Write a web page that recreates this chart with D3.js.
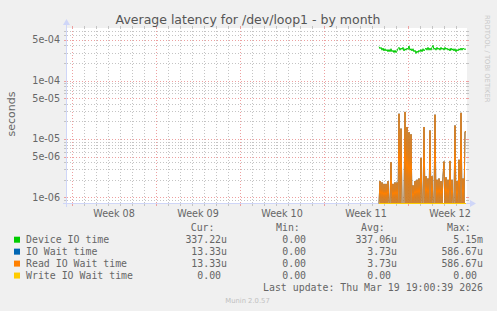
<!DOCTYPE html>
<html><head><meta charset="utf-8">
<script src="https://cdn.jsdelivr.net/npm/d3@7"></script>
<style>html,body{margin:0;padding:0;background:#f0f0f0;}svg{display:block}</style>
</head><body>
<svg id="c" width="497" height="311"></svg>
<script>
// ---------------- data ----------------
const titleText = "Average latency for /dev/loop1 - by month";
const yAxisLabel = "seconds";
const timeStart = "2026-02-15T14:00:00Z";
const timeEnd = "2026-03-20T22:00:00Z";
const firstSample = "2026-03-13T14:00:00Z";
const stepHours = 2;

const weekStarts = ["2026-02-16","2026-02-23","2026-03-02","2026-03-09","2026-03-16"];
const weekLabels = ["Week 08","Week 09","Week 10","Week 11","Week 12"];

const yTickValues = [1e-6, 5e-6, 1e-5, 5e-5, 1e-4, 5e-4];
const yTickLabels = ["1e-06","5e-06","1e-05","5e-05","1e-04","5e-04"];

const deviceIoTime = [
 3.8e-4,3.5e-4,3.7e-4,3.3e-4,3.6e-4,3.2e-4,3.5e-4,3.2e-4,3.4e-4,3.1e-4,
 3.4e-4,3.1e-4,3.5e-4,3.1e-4,3.3e-4,3.0e-4,3.3e-4,3.0e-4,3.2e-4,3.5e-4,
 3.7e-4,3.3e-4,3.6e-4,3.4e-4,3.7e-4,3.2e-4,3.5e-4,3.3e-4,3.6e-4,3.4e-4,
 3.9e-4,3.3e-4,3.5e-4,3.2e-4,3.5e-4,3.1e-4,3.3e-4,2.9e-4,3.2e-4,3.0e-4,
 3.3e-4,3.1e-4,3.4e-4,3.1e-4,3.5e-4,3.2e-4,3.4e-4,3.6e-4,3.3e-4,3.7e-4,
 3.3e-4,3.6e-4,3.3e-4,3.7e-4,4.0e-4,3.4e-4,3.6e-4,3.3e-4,3.7e-4,3.4e-4,
 3.6e-4,3.3e-4,3.7e-4,3.4e-4,3.6e-4,3.3e-4,3.7e-4,3.4e-4,3.6e-4,3.3e-4,
 3.5e-4,3.2e-4,3.6e-4,3.3e-4,3.5e-4,3.2e-4,3.5e-4,3.1e-4,3.4e-4,3.2e-4,
 3.5e-4,3.3e-4,3.6e-4,3.3e-4,3.6e-4,3.4e-4,3.5e-4,3.37e-4
];
const ioWaitTime = [
 0,1.9e-6,0,1.8e-6,0,1.7e-6,0,1.7e-6,0,1.9e-6,
 0,0,4.0e-6,0,1.7e-6,0,1.8e-6,0,1.8e-6,0,
 2.7e-5,0,1.5e-5,0,0,0,2.9e-5,0,1.6e-5,0,
 1.3e-5,0,1.2e-5,0,1.6e-6,0,1.9e-6,0,2.0e-6,0,
 2.1e-6,0,4.7e-6,0,0,1.6e-5,0,2.3e-6,0,2.1e-6,
 0,1.4e-5,0,2.3e-6,0,0,2.6e-5,0,2.0e-6,0,
 2.1e-6,0,1.9e-6,0,2.3e-6,4.1e-6,0,2.2e-6,0,2.0e-6,
 0,4.2e-6,0,2.0e-6,0,0,1.7e-5,0,1.9e-6,0,
 4.4e-6,0,2.8e-5,0,2.1e-6,0,1.33e-5,1.33e-5
];
const readIoWaitTime = [
 0,1.9e-6,0,1.8e-6,0,1.7e-6,0,1.7e-6,0,1.9e-6,
 0,0,4.0e-6,0,1.7e-6,0,1.8e-6,0,1.8e-6,0,
 2.7e-5,0,1.5e-5,0,0,0,2.9e-5,0,1.6e-5,0,
 1.3e-5,0,1.2e-5,0,1.6e-6,0,1.9e-6,0,2.0e-6,0,
 2.1e-6,0,4.7e-6,0,0,1.6e-5,0,2.3e-6,0,2.1e-6,
 0,1.4e-5,0,2.3e-6,0,0,2.6e-5,0,2.0e-6,0,
 2.1e-6,0,1.9e-6,0,2.3e-6,4.1e-6,0,2.2e-6,0,2.0e-6,
 0,4.2e-6,0,2.0e-6,0,0,1.7e-5,0,1.9e-6,0,
 4.4e-6,0,2.8e-5,0,2.1e-6,0,1.33e-5,1.33e-5
];
const writeIoWaitTime = [
 0,0,0,0,0,0,0,0,0,0, 0,0,0,0,0,0,0,0,0,0,
 0,0,0,0,0,0,0,0,0,0, 0,0,0,0,0,0,0,0,0,0,
 0,0,0,0,0,0,0,0,0,0, 0,0,0,0,0,0,0,0,0,0,
 0,0,0,0,0,0,0,0,0,0, 0,0,0,0,0,0,0,0,0,0,
 0,0,0,0,0,0,0,0
];

const seriesNames = ["Device IO time","IO Wait time","Read IO Wait time","Write IO Wait time"];
const curValues = ["337.22u","13.33u","13.33u","0.00"];
const minValues = ["0.00","0.00","0.00","0.00"];
const avgValues = ["337.06u","3.73u","3.73u","0.00"];
const maxValues = ["5.15m","586.67u","586.67u","0.00"];
const statHeaders = ["Cur:","Min:","Avg:","Max:"];
const lastUpdate = "Last update: Thu Mar 19 19:00:39 2026";
const footer = "Munin 2.0.57";
const sideText = "RRDTOOL / TOBI OETIKER";

// ---------------- style ----------------
const colors = ["#00cc00","#0066b3","#ff8000","#ffcc00"];
const W = 497, H = 311;
const X0 = 67, X1 = 467, Y0 = 203, Y1 = 28;
const fontSans = "'DejaVu Sans', sans-serif";
const fontMono = "'DejaVu Sans Mono', monospace";
const fontColor = "#666";
const axisColor = "#cfd6f8";
const gridColor = "#c4c4c4";
const mgridColor = "#eda0a0";

const svg = d3.select("#c");
svg.append("rect").attr("width",W).attr("height",H).attr("fill","#f0f0f0");
svg.append("rect").attr("x",X0).attr("y",Y1).attr("width",X1-X0).attr("height",Y0-Y1).attr("fill","#fff");

const x = d3.scaleUtc().domain([new Date(timeStart), new Date(timeEnd)]).range([X0, X1]);
const y = d3.scaleLog().domain([8.0e-7, 7.92e-4]).range([Y0, Y1]);

const t0 = new Date(firstSample).getTime();
const toPts = arr => arr.map((v,i)=>({t:new Date(t0 + i*stepHours*3600e3), v}));

const grid = svg.append("g");
const px = v => Math.round(v) + 0.5;

// vertical grid
const mondays = weekStarts.map(d=>new Date(d+"T00:00:00Z").getTime());
const days = d3.utcDay.range(x.domain()[0], x.domain()[1]);
days.forEach(d=>{
  const major = mondays.includes(d.getTime());
  const xx = px(x(d));
  const c = major ? mgridColor : gridColor;
  grid.append("line").attr("x1",xx).attr("x2",xx).attr("y1",Y1).attr("y2",Y0)
    .attr("stroke",c).attr("stroke-dasharray","1,2").attr("shape-rendering","crispEdges");
  grid.append("line").attr("x1",xx).attr("x2",xx).attr("y1",Y0).attr("y2",Y0+3)
    .attr("stroke",c).attr("shape-rendering","crispEdges");
  grid.append("line").attr("x1",xx).attr("x2",xx).attr("y1",Y1-2).attr("y2",Y1)
    .attr("stroke",c).attr("shape-rendering","crispEdges");
});
// horizontal grid
y.ticks().forEach(v=>{
  const major = yTickValues.some(t=>Math.abs(t-v)/t < 1e-6);
  const yy = px(y(v));
  const c = major ? mgridColor : gridColor;
  grid.append("line").attr("x1",X0).attr("x2",X1).attr("y1",yy).attr("y2",yy)
    .attr("stroke",c).attr("stroke-dasharray","1,2").attr("shape-rendering","crispEdges");
  grid.append("line").attr("x1",X0-3).attr("x2",X0).attr("y1",yy).attr("y2",yy)
    .attr("stroke",c).attr("shape-rendering","crispEdges");
  grid.append("line").attr("x1",X1).attr("x2",X1+2).attr("y1",yy).attr("y2",yy)
    .attr("stroke",c).attr("shape-rendering","crispEdges");
});

// axes
svg.append("line").attr("x1",X0-4).attr("x2",X1+4).attr("y1",Y0+0.5).attr("y2",Y0+0.5).attr("stroke",axisColor);
svg.append("line").attr("x1",X0-0.5).attr("x2",X0-0.5).attr("y1",Y0+4).attr("y2",Y1-4).attr("stroke",axisColor);
svg.append("path").attr("d",`M${X1+3},${Y0-3}L${X1+3},${Y0+4}L${X1+9},${Y0+0.5}Z`).attr("fill",axisColor);
svg.append("path").attr("d",`M${X0-4},${Y1-3}L${X0+3},${Y1-3}L${X0-0.5},${Y1-9}Z`).attr("fill",axisColor);

// data lines
svg.append("clipPath").attr("id","clip").append("rect")
  .attr("x",X0).attr("y",Y1).attr("width",X1-X0+1).attr("height",Y0-Y1+1);
const line = d3.line().x(d=>x(d.t)).y(d=> d.v>0 ? y(d.v) : Y0 + 0.5);
const dataG = svg.append("g").attr("clip-path","url(#clip)");
[deviceIoTime, ioWaitTime, readIoWaitTime, writeIoWaitTime].forEach((arr,i)=>{
  dataG.append("path").datum(toPts(arr)).attr("d",line)
    .attr("fill","none").attr("stroke",colors[i]).attr("stroke-width",1)
    .attr("stroke-linejoin","round");
});

// y tick labels
yTickValues.forEach((v,i)=>{
  svg.append("text").attr("x",60).attr("y",y(v)+3.5).attr("text-anchor","end")
    .attr("font-family",fontSans).attr("font-size","9.6px").attr("fill",fontColor).text(yTickLabels[i]);
});
// x tick labels
weekStarts.forEach((d,i)=>{
  const mid = new Date(new Date(d+"T00:00:00Z").getTime() + 3.5*86400e3);
  svg.append("text").attr("x",x(mid)).attr("y",216.5).attr("text-anchor","middle")
    .attr("font-family",fontSans).attr("font-size","9.6px").attr("fill",fontColor).text(weekLabels[i]);
});

// title
svg.append("text").attr("x",248).attr("y",24).attr("text-anchor","middle")
  .attr("font-family",fontSans).attr("font-size","12.5px").attr("fill","#555").text(titleText);
// y label
svg.append("text").attr("transform","translate(15,114) rotate(-90)").attr("text-anchor","middle")
  .attr("font-family",fontSans).attr("font-size","11px").attr("fill",fontColor).text(yAxisLabel);
// side text
svg.append("text").attr("transform","translate(485,15) rotate(90)").attr("text-anchor","start")
  .attr("font-family",fontSans).attr("font-size","6.8px").attr("fill","#c8c8c8").text(sideText);

// legend
const mono = sel => sel.attr("font-family",fontMono).attr("font-size","9.9px").attr("fill",fontColor);
const hdrX = [190.7, 276, 361, 447];
statHeaders.forEach((h,i)=>{
  mono(svg.append("text").attr("x",hdrX[i]).attr("y",231.1)).text(h);
});
const colEnd = [227, 312, 397, 483];
const fmt = s => /[a-zA-Z]$/.test(s) ? s : s + "\u00a0";
seriesNames.forEach((n,i)=>{
  const cy = 239.7 + i*11.95;
  svg.append("rect").attr("x",14).attr("y",cy-3).attr("width",6).attr("height",6).attr("fill",colors[i]);
  mono(svg.append("text").attr("x",26).attr("y",cy+3.6)).text(n);
  [curValues,minValues,avgValues,maxValues].forEach((col,j)=>{
    mono(svg.append("text").attr("x",colEnd[j]).attr("y",cy+3.6).attr("text-anchor","end")).text(fmt(col[i]));
  });
});
mono(svg.append("text").attr("x",483).attr("y",291.3).attr("text-anchor","end")).text(lastUpdate);
svg.append("text").attr("x",247.5).attr("y",302.5).attr("text-anchor","middle")
  .attr("font-family",fontSans).attr("font-size","6.8px").attr("fill","#c0c0c0").text(footer);
</script>
</body></html>
